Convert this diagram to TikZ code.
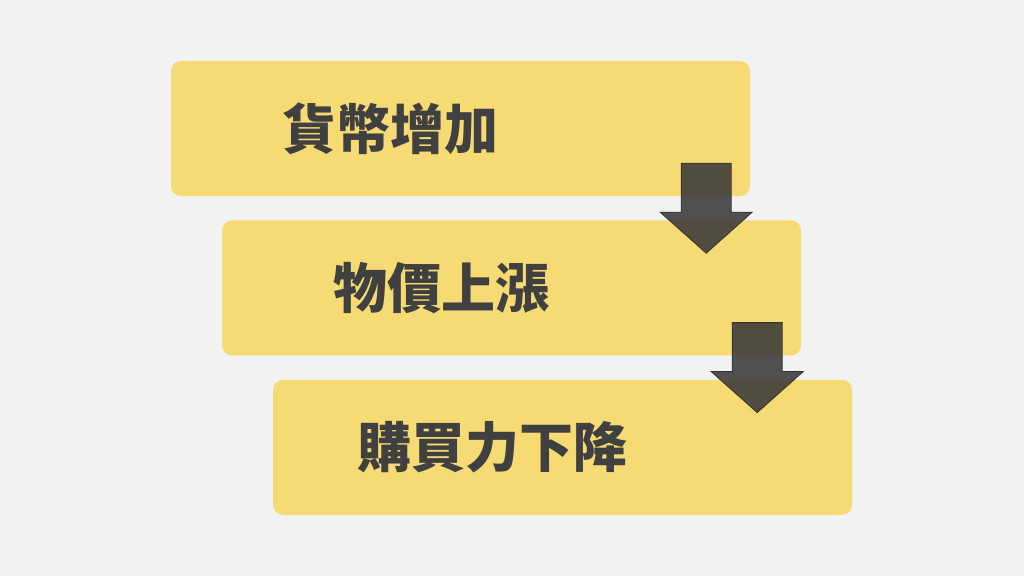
\documentclass[tikz,border=0pt]{standalone}
\usepackage{fontspec}
\usepackage{xcolor}
\usetikzlibrary{positioning}
\newfontfamily\cjk{Noto Sans CJK TC}
\definecolor{PageGray}{HTML}{F2F2F2}
\definecolor{BoxYellow}{HTML}{F6DA74}
\definecolor{InkGray}{HTML}{404040}
\definecolor{ArrowGray}{HTML}{383838}

\begin{document}
\begin{tikzpicture}[
  x=1pt,y=-1pt,
  stage/.style={fill=BoxYellow,rounded corners=10pt,minimum width=579pt,minimum height=135pt,inner sep=0pt},
  label/.style={font=\cjk\bfseries\fontsize{54pt}{60pt}\selectfont,text=InkGray,inner sep=0pt},
  downarr/.style={fill=ArrowGray,fill opacity=.87,draw=ArrowGray!90!black,line width=.8pt}
]
\fill[PageGray] (0,0) rectangle (1024,576);
\useasboundingbox (0,0) rectangle (1024,576);
\node[stage] (money) at (460.5,128.5) {};
\node[stage,below=24pt of money,xshift=51pt] (price) {};
\node[stage,below=24pt of price,xshift=51pt] (power) {};
\node[label] (moneytxt) at ([xshift=-70pt]money.center) {貨幣增加};
\node[label] (pricetxt) at ([xshift=-70pt]price.center) {物價上漲};
\node[label] (powertxt) at ([xshift=-70pt]power.center) {購買力下降};
% block arrows between stages
\coordinate (a1) at ([xshift=-44pt,yshift=33pt]money.south east);
\coordinate (a2) at ([xshift=-44pt,yshift=33pt]price.south east);
\foreach \c in {a1,a2}
  \draw[downarr,shift={(\c)}] (-25,0) -- (25,0) -- (25,49) -- (46,49) -- (0,90) -- (-46,49) -- (-25,49) -- cycle;
\end{tikzpicture}
\end{document}
